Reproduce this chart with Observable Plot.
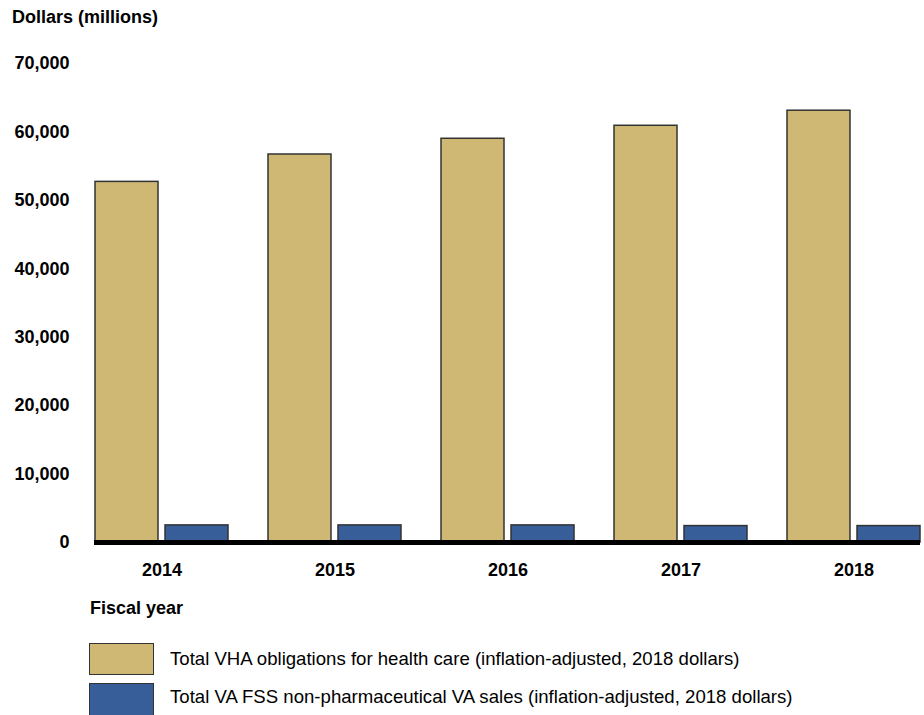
<!DOCTYPE html>
<html>
<head>
<meta charset="utf-8">
<script src="https://cdn.jsdelivr.net/npm/d3@7"></script>
<script src="https://cdn.jsdelivr.net/npm/@observablehq/plot@0.6"></script>
<style>
  html, body { margin: 0; padding: 0; background: #fff; }
  body { width: 924px; height: 715px; position: relative; overflow: hidden;
         font-family: "Liberation Sans", Arial, Helvetica, sans-serif; color: #000; }
  .t { position: absolute; font-size: 18px; line-height: 18px; white-space: nowrap; }
  .lg { font-size: 18.6px; line-height: 18.6px; }
  .b { font-weight: bold; }
  #chart { position: absolute; left: 0; top: 30px; }
  .sw { position: absolute; width: 63px; height: 30px; border: 1.5px solid #333; }
</style>
</head>
<body>
<div class="t b" style="left:12px; top:8px;">Dollars (millions)</div>
<div id="chart"></div>
<div class="t b" style="left:90px; top:599px;">Fiscal year</div>
<div id="legend"></div>
<script>
const years = ["2014", "2015", "2016", "2017", "2018"];
const vhaObligations = [52700, 56700, 59000, 60900, 63100];
const fssSales = [2500, 2500, 2500, 2400, 2400];
const seriesNames = [
  "Total VHA obligations for health care (inflation-adjusted, 2018 dollars)",
  "Total VA FSS non-pharmaceutical VA sales (inflation-adjusted, 2018 dollars)"
];
const seriesColors = ["#cfb873", "#385e9a"];
const yTicks = [0, 10000, 20000, 30000, 40000, 50000, 60000, 70000];

const vhaData = years.map((yr, i) => ({year: yr, value: vhaObligations[i]}));
const fssData = years.map((yr, i) => ({year: yr, value: fssSales[i]}));

// group band = 133px; each bar 63px with a 7px gap
const plot = Plot.plot({
  width: 924,
  height: 562,
  marginTop: 33,
  marginBottom: 50,
  marginLeft: 94,
  marginRight: 4,
  style: {fontFamily: '"Liberation Sans", Arial, sans-serif', fontSize: "18px", fontWeight: "bold", color: "#000", background: "#fff"},
  x: {domain: years, paddingInner: 0.232, paddingOuter: 0, label: null},
  y: {domain: [0, 70000], label: null},
  marks: [
    Plot.axisX({tickSize: 0, tickPadding: 21, label: null, fontSize: 18, fontWeight: "bold"}),
    Plot.axisY({ticks: yTicks, tickSize: 0, tickPadding: 25, label: null, tickFormat: d3.format(","), fontSize: 18, fontWeight: "bold"}),
    Plot.barY(vhaData, {x: "year", y: "value", fill: seriesColors[0], stroke: "#333", strokeWidth: 1.5, insetRight: 70}),
    Plot.barY(fssData, {x: "year", y: "value", fill: seriesColors[1], stroke: "#333", strokeWidth: 1.5, insetLeft: 70}),
    Plot.ruleY([0], {stroke: "#000", strokeWidth: 5})
  ]
});
document.getElementById("chart").appendChild(plot);

const legend = document.getElementById("legend");
const swTops = [643, 683];
const swHeights = [30, 40];
const txtTops = [650, 688];
seriesNames.forEach((name, i) => {
  const sw = document.createElement("div");
  sw.className = "sw";
  sw.style.left = "89px";
  sw.style.top = swTops[i] + "px";
  sw.style.height = swHeights[i] + "px";
  sw.style.background = seriesColors[i];
  legend.appendChild(sw);
  const t = document.createElement("div");
  t.className = "t lg";
  t.style.left = "170px";
  t.style.top = txtTops[i] + "px";
  t.textContent = name;
  legend.appendChild(t);
});
</script>
</body>
</html>
